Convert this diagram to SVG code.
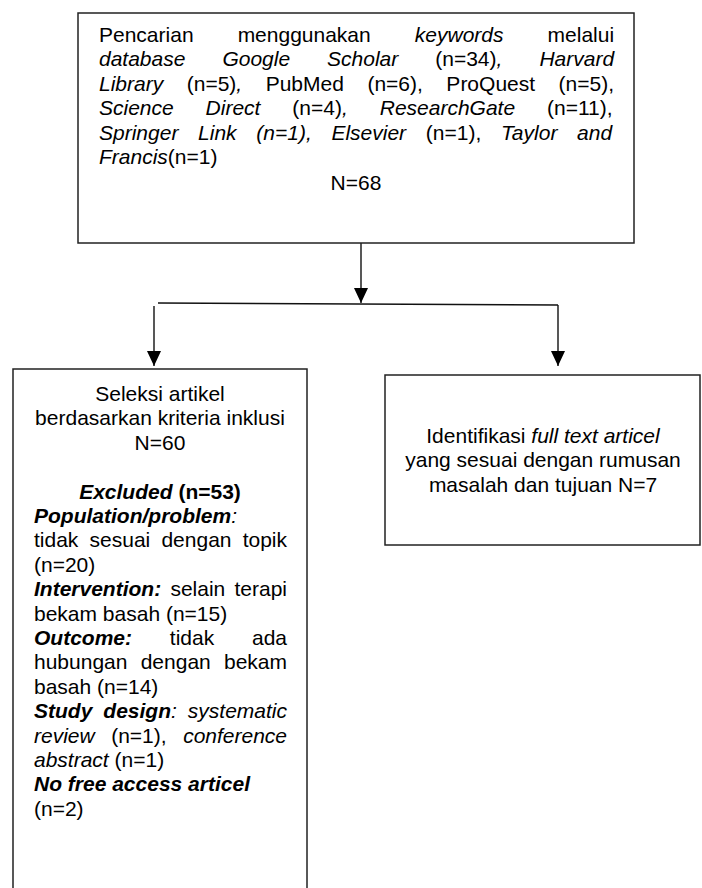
<svg xmlns="http://www.w3.org/2000/svg" width="702" height="888" viewBox="0 0 702 888">
<style>
.box{fill:#fff;stroke:#222;stroke-width:1.5}
.ln{fill:none;stroke:#111;stroke-width:1.4}
.t{font-family:"Liberation Sans",Arial,sans-serif;font-size:21px;fill:#000}
.c{text-anchor:middle}
.i{font-style:italic}
.b{font-weight:bold}
.bi{font-weight:bold;font-style:italic}
</style>
<defs>
<marker id="ah" markerUnits="userSpaceOnUse" markerWidth="16" markerHeight="16" refX="15" refY="7" orient="auto">
<path d="M0,0 L15,7 L0,14 Z" fill="#000"/>
</marker>
</defs>
<rect width="702" height="888" fill="#fff"/>
<g id="connectors">
<line class="ln" x1="361" y1="243" x2="361" y2="303" marker-end="url(#ah)"/>
<line class="ln" x1="158" y1="303" x2="558" y2="305"/>
<line class="ln" x1="154" y1="306" x2="154" y2="366" marker-end="url(#ah)"/>
<line class="ln" x1="558" y1="305" x2="558" y2="366" marker-end="url(#ah)"/>
</g>
<g id="node-search">
<rect class="box" x="78" y="13" width="556" height="230"/>
<text class="t" x="99" y="42" word-spacing="38.23">Pencarian menggunakan <tspan class="i">keywords</tspan> melalui</text>
<text class="t" x="99" y="66.4" word-spacing="31.14"><tspan class="i">database Google Scholar</tspan> (n=34)<tspan class="i">,</tspan> <tspan class="i">Harvard</tspan></text>
<text class="t" x="99" y="90.8" word-spacing="17.68"><tspan class="i">Library</tspan> (n=5)<tspan class="i">,</tspan> PubMed (n=6), ProQuest (n=5),</text>
<text class="t" x="99" y="115.2" word-spacing="26.06"><tspan class="i">Science Direct</tspan> (n=4)<tspan class="i">,</tspan> <tspan class="i">ResearchGate</tspan> (n=11),</text>
<text class="t" x="99" y="139.6" word-spacing="13.86"><tspan class="i">Springer Link (n=1), Elsevier</tspan> (n=1), <tspan class="i">Taylor and</tspan></text>
<text class="t" x="99" y="164"><tspan class="i">Francis</tspan>(n=1)</text>
<text class="t c" x="356" y="190">N=68</text>
</g>
<g id="node-selection">
<rect class="box" x="13" y="369" width="294" height="540"/>
<text class="t c" x="160" y="401">Seleksi artikel</text>
<text class="t c" x="160" y="425.4">berdasarkan kriteria inklusi</text>
<text class="t c" x="160" y="449.8">N=60</text>
<text class="t c" x="160" y="498.6"><tspan class="bi">Excluded</tspan> <tspan class="b">(n=53)</tspan></text>
<text class="t" x="34" y="523"><tspan class="bi">Population/problem</tspan><tspan class="i">:</tspan></text>
<text class="t" x="34" y="547.4" word-spacing="5.34">tidak sesuai dengan topik</text>
<text class="t" x="34" y="571.8">(n=20)</text>
<text class="t" x="34" y="596.2" word-spacing="3.4"><tspan class="bi">Intervention:</tspan> selain terapi</text>
<text class="t" x="34" y="620.6">bekam basah (n=15)</text>
<text class="t" x="34" y="645" word-spacing="31.96"><tspan class="bi">Outcome:</tspan> tidak ada</text>
<text class="t" x="34" y="669.4" word-spacing="7.41">hubungan dengan bekam</text>
<text class="t" x="34" y="693.8">basah (n=14)</text>
<text class="t" x="34" y="718.2" word-spacing="5.16"><tspan class="bi">Study design</tspan><tspan class="i">: systematic</tspan></text>
<text class="t" x="34" y="742.6" word-spacing="10.66"><tspan class="i">review</tspan> (n=1), <tspan class="i">conference</tspan></text>
<text class="t" x="34" y="767"><tspan class="i">abstract</tspan> (n=1)</text>
<text class="t bi" x="34" y="791.4">No free access articel</text>
<text class="t" x="34" y="815.8">(n=2)</text>
</g>
<g id="node-fulltext">
<rect class="box" x="385" y="375" width="315" height="170"/>
<text class="t c" x="543" y="443">Identifikasi <tspan class="i">full text articel</tspan></text>
<text class="t c" x="543" y="467.4">yang sesuai dengan rumusan</text>
<text class="t c" x="543" y="491.8">masalah dan tujuan N=7</text>
</g>
</svg>
